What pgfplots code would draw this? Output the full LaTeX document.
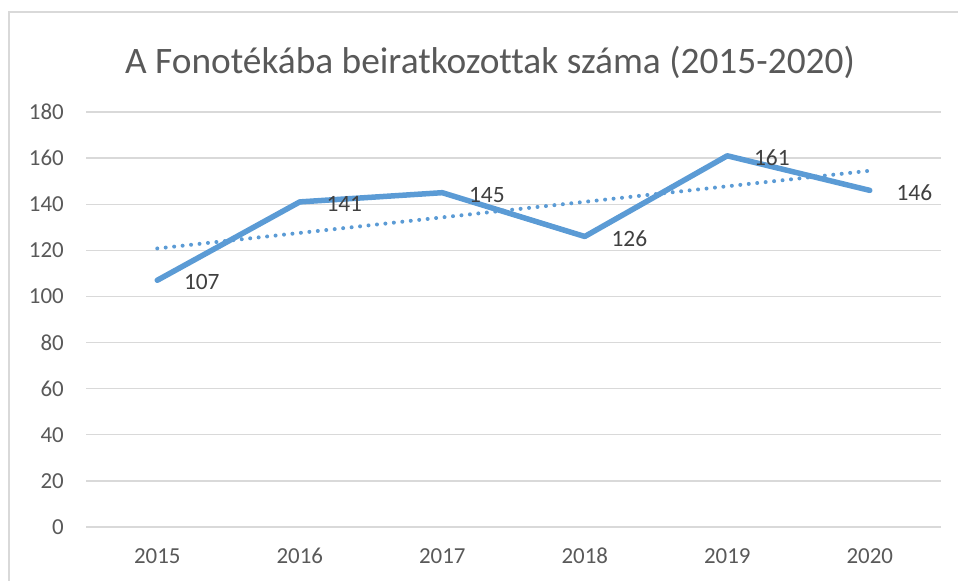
\documentclass[border=0pt]{standalone}
\usepackage{fontspec}
\setmainfont[Ligatures={NoCommon}]{Carlito}
\usepackage{pgfplots}
\pgfplotsset{compat=1.18}
\definecolor{lineblue}{HTML}{5B9BD5}
\definecolor{gridgray}{HTML}{D9D9D9}
\definecolor{ticktext}{HTML}{595959}
\definecolor{labeltext}{HTML}{404040}
\begin{document}
\begin{tikzpicture}[x=1bp,y=1bp]
\useasboundingbox (0,0) rectangle (958,581);
\draw[color=gridgray, line width=1.2bp] (9,-5) -- (9,569) -- (965,569);
\node[text=ticktext, font=\fontsize{37.5}{37.5}\selectfont] at (490,519) {A Fonotékába beiratkozottak száma (2015-2020)};
\begin{axis}[
  at={(86bp,54bp)}, anchor=south west,
  scale only axis, width=855bp, height=415bp,
  xmin=-0.5, xmax=5.5, ymin=0, ymax=180,
  ytick={0,20,...,180},
  xtick={0,1,2,3,4,5},
  xticklabels={2015,2016,2017,2018,2019,2020},
  axis line style={draw=none},
  major tick length=0pt,
  ymajorgrids, grid style={gridgray, line width=1.3bp},
  tick label style={font=\fontsize{23}{23}\selectfont, text=ticktext, inner sep=0pt},
  /pgf/number format/assume math mode=true,
  yticklabel style={anchor=east, xshift=-22bp},
  xticklabel style={anchor=north, yshift=-22bp, text height=14bp, text depth=0bp},
  clip=false,
]
\addplot[lineblue, line width=4bp, line cap=round, dash pattern=on 0bp off 8.5bp]
  coordinates {(0,120.81) (5,154.52)};
\addplot[lineblue, line width=5.5bp, line join=round, line cap=round,
  nodes near coords,
  every node near coord/.style={anchor=west, inner sep=0pt, xshift=24bp, yshift=-2bp, font=\fontsize{23.5}{23.5}\selectfont, text=labeltext},
  point meta=explicit symbolic]
  coordinates {(0,107)[107] (1,141)[141] (2,145)[145] (3,126)[126] (4,161)[161] (5,146)[146]};
\end{axis}
\end{tikzpicture}
\end{document}
